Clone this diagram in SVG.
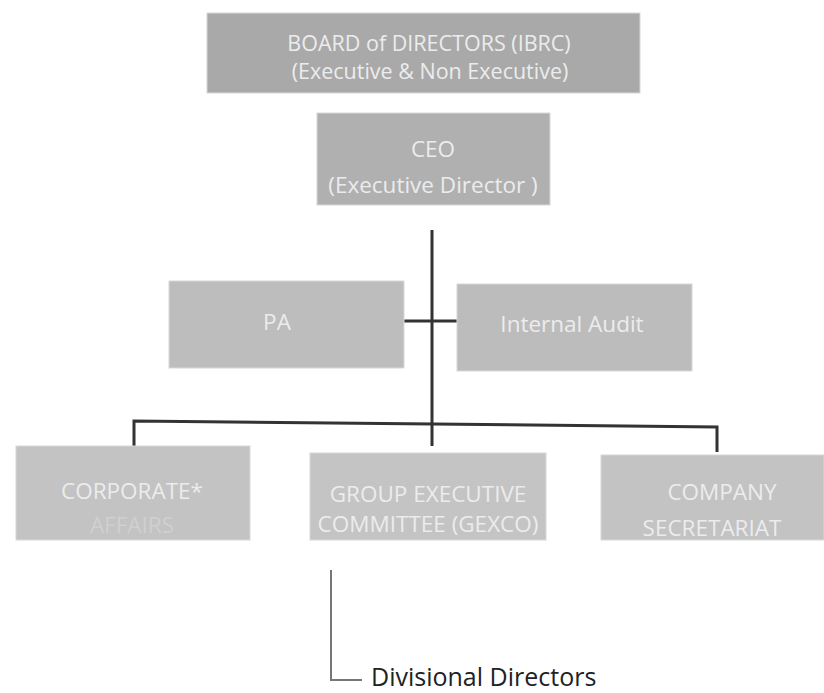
<svg xmlns="http://www.w3.org/2000/svg" width="824" height="693" viewBox="0 0 824 693">
<style>
.box{stroke:#d8d8d8;stroke-width:1}
.t{font-family:"Open Sans","Liberation Sans",sans-serif;font-size:22.5px;fill:#ececec;text-anchor:middle}
.bt{font-size:21.5px}
.con{stroke:#333;stroke-width:3;fill:none}
.div{stroke:#777;stroke-width:2;fill:none}
.lbl{font-family:"Open Sans","Liberation Sans",sans-serif;font-size:25px;fill:#222}
</style>
<rect width="824" height="693" fill="#fff"/>
<g id="connectors">
<path class="con" d="M432 230 V446"/>
<path class="con" d="M404 321 H458"/>
<path class="con" d="M134 446 V421 L717 427 V452"/>
<path class="div" d="M331 570 V680 H362"/>
</g>
<g id="board">
<rect class="box" x="207" y="13" width="433" height="80" fill="#a9a9a9"/>
<text class="t bt" x="429" y="51">BOARD of DIRECTORS (IBRC)</text>
<text class="t bt" x="430" y="79">(Executive &amp; Non Executive)</text>
</g>
<g id="ceo">
<rect class="box" x="317" y="113" width="233" height="92" fill="#b0b0b0"/>
<text class="t" x="433" y="157">CEO</text>
<text class="t" x="433" y="193">(Executive Director )</text>
</g>
<g id="pa">
<rect class="box" x="169" y="281" width="235" height="87" fill="#bdbdbd"/>
<text class="t" x="277" y="330">PA</text>
</g>
<g id="internal-audit">
<rect class="box" x="457" y="284" width="235" height="87" fill="#bcbcbc"/>
<text class="t" x="572" y="332">Internal Audit</text>
</g>
<g id="corporate">
<rect class="box" x="16" y="446" width="234" height="94" fill="#c3c3c3"/>
<text class="t" x="132" y="499">CORPORATE*</text>
<text class="t" x="132" y="533" style="fill:#d0d0d0">AFFAIRS</text>
</g>
<g id="gexco">
<rect class="box" x="310" y="453" width="236" height="87" fill="#c4c4c4"/>
<text class="t" x="428" y="502">GROUP EXECUTIVE</text>
<text class="t" x="428" y="532">COMMITTEE (GEXCO)</text>
</g>
<g id="company-secretariat">
<rect class="box" x="601" y="455" width="223" height="85" fill="#c3c3c3"/>
<text class="t" x="722" y="500">COMPANY</text>
<text class="t" x="712" y="536">SECRETARIAT</text>
</g>
<text class="lbl" x="371" y="686">Divisional Directors</text>
</svg>
